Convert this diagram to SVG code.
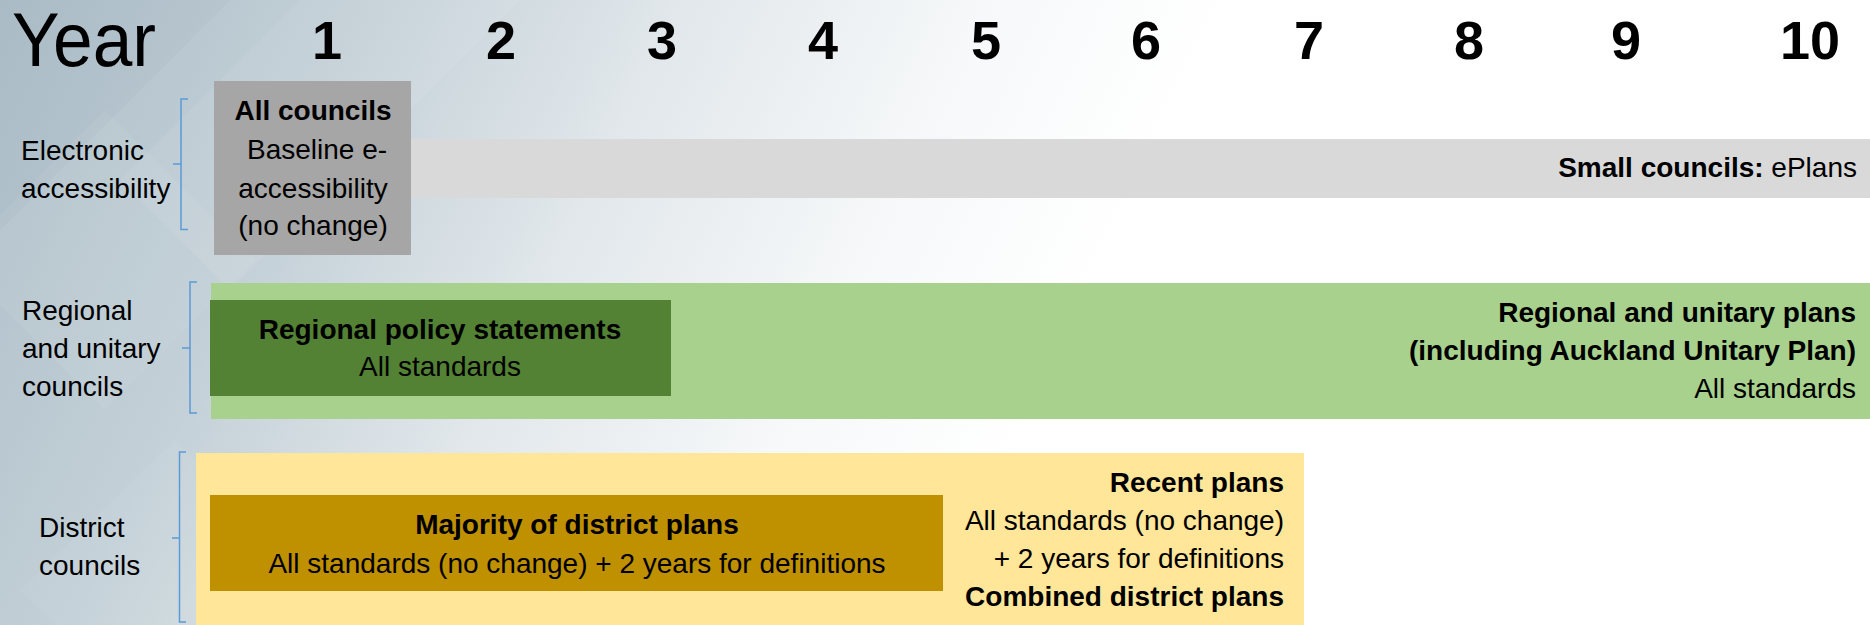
<svg xmlns="http://www.w3.org/2000/svg" width="1870" height="625" viewBox="0 0 1870 625">
  <defs>
    <linearGradient id="bg" gradientUnits="userSpaceOnUse" x1="0" y1="0" x2="1000" y2="480">
      <stop offset="0" stop-color="#adbec9"/>
      <stop offset="0.3" stop-color="#c3d0d7"/>
      <stop offset="0.55" stop-color="#e1e7eb"/>
      <stop offset="0.8" stop-color="#f6f8f9"/>
      <stop offset="1" stop-color="#ffffff"/>
    </linearGradient>
    <style>
      text { font-family: "Liberation Sans", Arial, sans-serif; fill: #000; }
      .t { font-size: 28px; }
      .b { font-weight: bold; }
      .num { font-size: 54px; font-weight: bold; text-anchor: middle; }
      .mid { text-anchor: middle; }
      .end { text-anchor: end; }
      .brk { fill: none; stroke: #5b9bd5; stroke-width: 1.5; }
    </style>
  </defs>

  <!-- background -->
  <rect x="0" y="0" width="1870" height="625" fill="#ffffff"/>
  <rect x="0" y="0" width="1870" height="625" fill="url(#bg)"/>
  <polygon points="105,110 255,260 105,410 -45,260" fill="#ffffff" opacity="0.06"/>
  <polygon points="0,0 230,0 0,230" fill="#8fa3ae" opacity="0.10"/>
  <polygon points="300,0 520,0 230,290 120,180" fill="#ffffff" opacity="0.07"/>
  <polygon points="175,440 330,590 175,740 20,590" fill="#ffffff" opacity="0.05"/>

  <!-- header -->
  <g id="header">
    <text x="12" y="66" font-size="76" textLength="144" lengthAdjust="spacingAndGlyphs">Year</text>
    <text class="num" x="327" y="59">1</text>
    <text class="num" x="501" y="59">2</text>
    <text class="num" x="662" y="59">3</text>
    <text class="num" x="823" y="59">4</text>
    <text class="num" x="986" y="59">5</text>
    <text class="num" x="1146" y="59">6</text>
    <text class="num" x="1309" y="59">7</text>
    <text class="num" x="1469" y="59">8</text>
    <text class="num" x="1626" y="59">9</text>
    <text class="num" x="1810" y="59">10</text>
  </g>

  <!-- row labels -->
  <g id="label-electronic">
    <text class="t" x="21" y="160">Electronic</text>
    <text class="t" x="21" y="198">accessibility</text>
  </g>
  <g id="label-regional">
    <text class="t" x="22" y="320">Regional</text>
    <text class="t" x="22" y="358">and unitary</text>
    <text class="t" x="22" y="396">councils</text>
  </g>
  <g id="label-district">
    <text class="t" x="39" y="537">District</text>
    <text class="t" x="39" y="575">councils</text>
  </g>

  <!-- brackets -->
  <g id="brackets">
    <path class="brk" d="M188,99 H181 V229.5 H188 M181,164 H173"/>
    <path class="brk" d="M197,282 H190 V413 H197 M190,348 H182"/>
    <path class="brk" d="M186,452 H179.5 V622 H186 M179.5,538 H172"/>
  </g>

  <!-- electronic accessibility row -->
  <g id="small-councils-eplans">
    <rect x="400" y="139" width="1470" height="59" fill="#d9d9d9"/>
    <text class="t end" x="1857" y="177"><tspan class="b">Small councils:</tspan> ePlans</text>
  </g>
  <g id="all-councils">
    <rect x="214" y="81" width="197" height="174" fill="#a6a6a6"/>
    <text class="t b mid" x="313" y="120">All councils</text>
    <text class="t mid" x="317" y="159">Baseline e-</text>
    <text class="t mid" x="313" y="198">accessibility</text>
    <text class="t mid" x="313" y="235">(no change)</text>
  </g>

  <!-- regional row -->
  <g id="regional-unitary-plans">
    <rect x="211" y="283" width="1659" height="136" fill="#a9d18e"/>
    <text class="t b end" x="1856" y="322">Regional and unitary plans</text>
    <text class="t b end" x="1856" y="360">(including Auckland Unitary Plan)</text>
    <text class="t end" x="1856" y="398">All standards</text>
  </g>
  <g id="regional-policy-statements">
    <rect x="210" y="300" width="461" height="96" fill="#548235"/>
    <text class="t b mid" x="440" y="339">Regional policy statements</text>
    <text class="t mid" x="440" y="376">All standards</text>
  </g>

  <!-- district row -->
  <g id="recent-plans">
    <rect x="196" y="453" width="1108" height="172" fill="#ffe699"/>
    <text class="t b end" x="1284" y="492">Recent plans</text>
    <text class="t end" x="1284" y="530">All standards (no change)</text>
    <text class="t end" x="1284" y="568">+ 2 years for definitions</text>
    <text class="t b end" x="1284" y="606">Combined district plans</text>
  </g>
  <g id="majority-district-plans">
    <rect x="210" y="495" width="733" height="96" fill="#bf9000"/>
    <text class="t b mid" x="577" y="534">Majority of district plans</text>
    <text class="t mid" x="577" y="573">All standards (no change) + 2 years for definitions</text>
  </g>
</svg>
